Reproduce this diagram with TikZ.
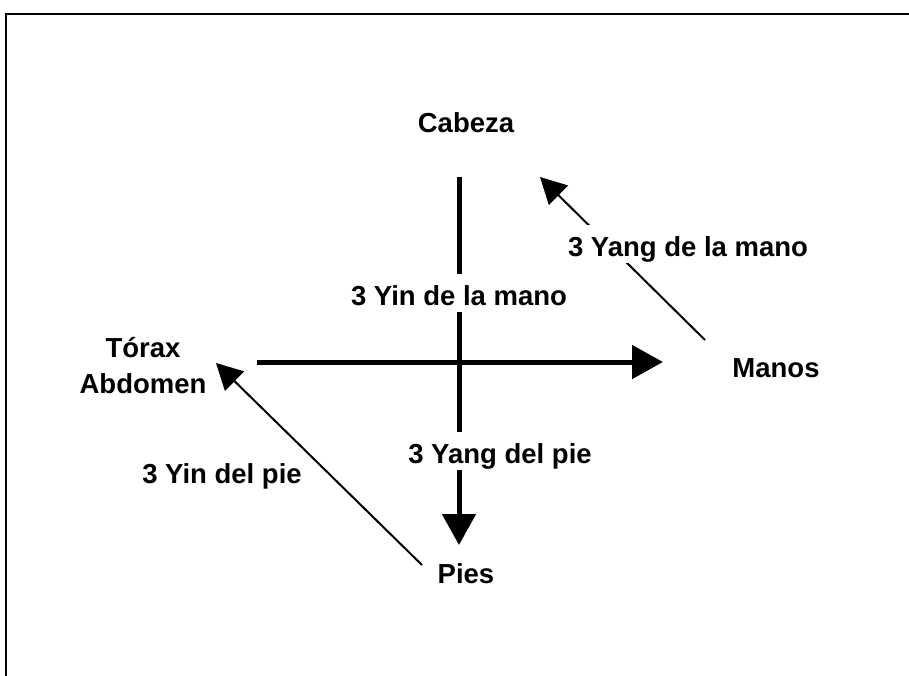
\documentclass[tikz,border=0pt]{standalone}
\usepackage{fontspec}
\setmainfont{Liberation Sans}
\usetikzlibrary{arrows.meta}
\tikzset{
  mlabel/.style={font=\fontsize{27.5}{36}\selectfont\bfseries, inner sep=0pt, anchor=base},
  mmask/.style ={mlabel, fill=white, text height=31pt, text depth=7pt},
  mthick/.style={line width=5pt, -{Triangle[length=31pt, width=33pt]}},
  mthin/.style ={line width=2pt, -{Triangle[length=26pt, width=27pt]}},
  mframe/.style={line width=2.5pt},
}

\begin{document}
\begin{tikzpicture}[x=1pt, y=-1pt]
  \useasboundingbox (0,0) rectangle (909,676);
  \draw[mframe] (909,14) -- (6,14) -- (6,676);

  \node[mlabel] (cabeza) at (466,133) {Cabeza};
  \node[mlabel, align=center] (torax) at (143,393) {Tórax\\Abdomen};
  \node[mlabel] (manos)  at (776,377) {Manos};
  \node[mlabel] (pies)   at (466,583) {Pies};
  \node[mlabel] (yinpie) at (222,483) {3 Yin del pie};

  \coordinate (vtop)     at (459,177);
  \coordinate (vbot)     at (459,545);
  \coordinate (hleft)    at (257,362);
  \coordinate (hright)   at (663,362);
  \coordinate (handsout) at (705,340);
  \coordinate (handsin)  at (540,177);
  \coordinate (feetout)  at (422,565);
  \coordinate (feetin)   at (216,363);

  \draw[mthick] (vtop) -- (vbot);
  \draw[mthick] (hleft) -- (hright);
  \draw[mthin]  (handsout) -- (handsin);
  \draw[mthin]  (feetout) -- (feetin);

  \node[mmask] (yinmano)  at (459,305) {3 Yin de la mano};
  \node[mmask] (yangpie)  at (500,463) {3 Yang del pie};
  \node[mmask] (yangmano) at (688,256) {3 Yang de la mano};
\end{tikzpicture}
\end{document}
